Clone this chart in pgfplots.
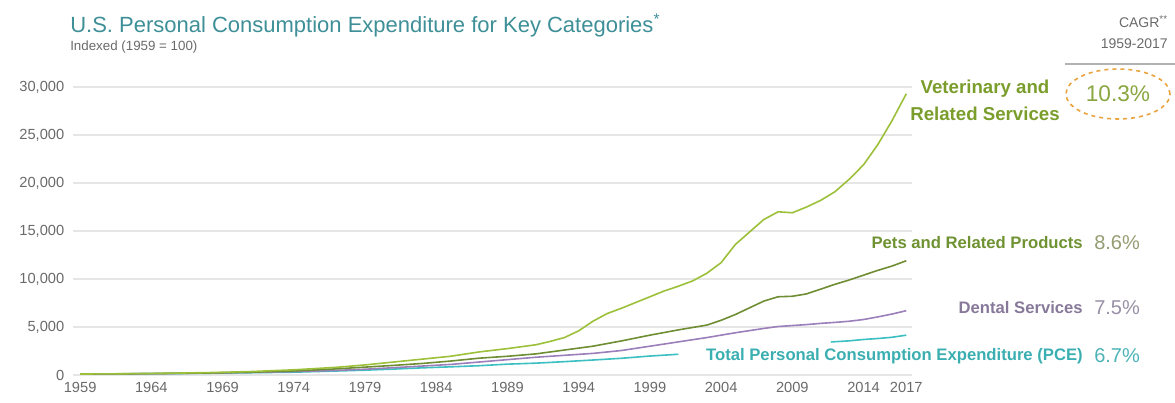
\documentclass[border=0pt]{standalone}
\usepackage{fontspec}
\setmainfont{Liberation Sans}
\usepackage{pgfplots}
\pgfplotsset{compat=1.18}
\definecolor{vet}{HTML}{9CC03A}
\definecolor{pets}{HTML}{6F8E33}
\definecolor{dental}{HTML}{9B7FBA}
\definecolor{pce}{HTML}{3BBFC1}
\definecolor{titlec}{HTML}{3E8F97}
\definecolor{gridc}{HTML}{E6E6E6}
\definecolor{tickc}{HTML}{6A6A6A}
\definecolor{vetlab}{HTML}{7A9D2C}
\definecolor{petslab}{HTML}{6F9232}
\definecolor{dentlab}{HTML}{87799A}
\definecolor{pcelab}{HTML}{3AAEB1}
\definecolor{petspct}{HTML}{949C72}
\definecolor{dentpct}{HTML}{9890A6}
\definecolor{pcepct}{HTML}{4DB3B6}
\definecolor{vetpct}{HTML}{8AA640}
\definecolor{orng}{HTML}{E9A43F}

\pgfplotstableread{
year val
1959 100
1962 130
1965 180
1968 250
1971 360
1974 540
1977 800
1979 1050
1981 1350
1983 1650
1985 1950
1987 2400
1989 2750
1991 3150
1992 3500
1993 3900
1994 4600
1995 5600
1996 6400
1997 6950
1998 7550
1999 8150
2000 8750
2001 9250
2002 9800
2003 10600
2004 11700
2005 13600
2006 14900
2007 16200
2008 17000
2009 16900
2010 17500
2011 18200
2012 19100
2013 20400
2014 21900
2015 24000
2016 26500
2017 29300
}\vettable

\pgfplotstableread{
year val
1959 100
1962 125
1965 160
1968 210
1971 290
1974 420
1977 640
1979 820
1981 1000
1983 1200
1985 1450
1987 1750
1989 1950
1991 2200
1993 2600
1995 3000
1997 3550
1999 4150
2001 4700
2003 5200
2004 5700
2005 6300
2006 7000
2007 7700
2008 8150
2009 8200
2010 8450
2011 8950
2012 9450
2013 9900
2014 10400
2015 10900
2016 11350
2017 11900
}\petstable

\pgfplotstableread{
year val
1959 100
1962 120
1965 150
1968 200
1971 270
1974 350
1977 480
1979 600
1981 760
1983 930
1985 1100
1987 1350
1989 1600
1991 1850
1993 2050
1995 2250
1997 2550
1999 3000
2001 3450
2003 3900
2005 4400
2007 4850
2008 5050
2009 5150
2010 5250
2011 5380
2012 5480
2013 5600
2014 5780
2015 6050
2016 6350
2017 6700
}\denttable

\pgfplotstableread{
year val
1959 100
1962 117
1965 147
1968 182
1971 238
1974 293
1977 417
1979 502
1981 616
1983 744
1985 850
1987 967
1989 1130
1991 1234
1993 1390
1995 1560
1997 1740
1999 1975
2001 2160
}\pceatable

\pgfplotstableread{
year val
2011.7 3440
2013 3560
2014 3700
2015 3800
2016 3930
2017 4150
}\pcebtable

\begin{document}
\begin{tikzpicture}
\useasboundingbox (0pt,0pt) rectangle (881.25pt,302.25pt);
\begin{axis}[
  at={(54.75pt,21pt)}, anchor=south west, scale only axis,
  width=629.25pt, height=216pt,
  xmin=1958.5, xmax=2017.4, ymin=0, ymax=30000,
  scaled y ticks=false, scaled x ticks=false,
  axis line style={draw=none}, major tick length=0pt,
  xtick={1959,1964,1969,1974,1979,1984,1989,1994,1999,2004,2009,2014,2017},
  xticklabels={1959,1964,1969,1974,1979,1984,1989,1994,1999,2004,2009,2014,2017},
  ytick={0,5000,10000,15000,20000,25000,30000},
  yticklabels={0,{5,000},{10,000},{15,000},{20,000},{25,000},{30,000}},
  ymajorgrids, grid style={gridc, line width=0.8pt},
  tick label style={font=\fontsize{11}{13}\selectfont, text=tickc},
  yticklabel style={xshift=-3pt},
  xticklabel style={yshift=-2pt},
  clip=false,
]
\addplot[pce, line width=1.2pt] table[x=year,y=val] {\pceatable};
\addplot[pce, line width=1.2pt] table[x=year,y=val] {\pcebtable};
\addplot[dental, line width=1.2pt] table[x=year,y=val] {\denttable};
\addplot[pets, line width=1.2pt] table[x=year,y=val] {\petstable};
\addplot[vet, line width=1.2pt] table[x=year,y=val] {\vettable};
\end{axis}

\begin{scope}[x=0.75pt,y=0.75pt]
% title and subtitle
\node[anchor=base west, text=titlec, font=\fontsize{16.5}{19}\selectfont, inner sep=0pt] at (70,370)
  {U.S. Personal Consumption Expenditure for Key Categories\textsuperscript{*}};
\node[anchor=base west, text=tickc, font=\fontsize{10}{12}\selectfont, inner sep=0pt] at (70,352)
  {Indexed (1959 = 100)};

% CAGR header
\node[anchor=east, text=tickc, font=\fontsize{10.5}{13}\selectfont, inner sep=0pt] at (1168,381) {CAGR\textsuperscript{**}};
\node[anchor=east, text=tickc, font=\fontsize{10.5}{13}\selectfont, inner sep=0pt] at (1168,359) {1959-2017};
\draw[color=black!30, line width=0.8pt] (1065,339) -- (1175,339);

% Veterinary label and CAGR
\node[align=center, text=vetlab, font=\bfseries\fontsize{14}{20}\selectfont, inner sep=0pt] at (985,303)
  {Veterinary and\\Related Services};
\draw[orng, dashed, line width=1.2pt] (1118,309) ellipse [x radius=52, y radius=25];
\node[text=vetpct, font=\fontsize{17}{20}\selectfont, inner sep=0pt] at (1118,309) {10.3\%};

% other labels
\node[anchor=east, text=petslab, font=\bfseries\fontsize{12.5}{15}\selectfont, inner sep=0pt] at (1083,160)
  {Pets and Related Products};
\node[anchor=west, text=petspct, font=\fontsize{15}{18}\selectfont, inner sep=0pt] at (1094,160) {8.6\%};
\node[anchor=east, text=dentlab, font=\bfseries\fontsize{12.5}{15}\selectfont, inner sep=0pt] at (1083,95)
  {Dental Services};
\node[anchor=west, text=dentpct, font=\fontsize{15}{18}\selectfont, inner sep=0pt] at (1094,95) {7.5\%};
\node[anchor=east, text=pcelab, font=\bfseries\fontsize{12.5}{15}\selectfont, inner sep=0pt] at (1083,47)
  {Total Personal Consumption Expenditure (PCE)};
\node[anchor=west, text=pcepct, font=\fontsize{15}{18}\selectfont, inner sep=0pt] at (1094,47) {6.7\%};
\end{scope}
\end{tikzpicture}
\end{document}
